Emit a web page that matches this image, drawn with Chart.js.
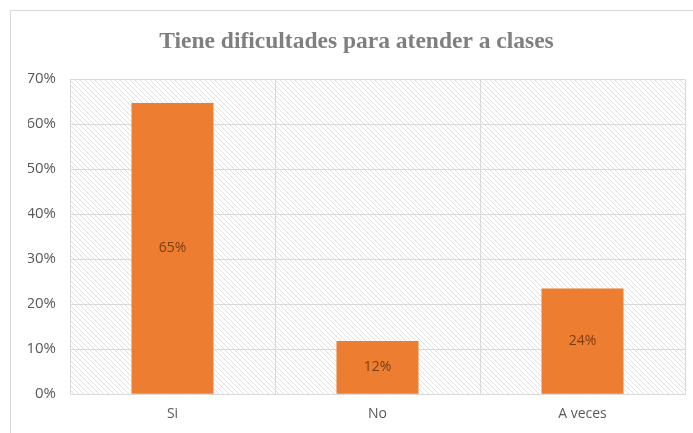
<!DOCTYPE html>
<html>
<head>
<meta charset="utf-8">
<script src="https://cdn.jsdelivr.net/npm/chart.js@4.4.0/dist/chart.umd.min.js"></script>
<style>
    html, body { margin: 0; padding: 0; background: #fff; overflow: hidden; }
    #frame { position: absolute; left: 10px; top: 10px; width: 720px; height: 460px; border: 1px solid #d9d9d9; }
    #wrap { position: absolute; left: 0; top: 0; width: 693px; height: 433px; }
</style>
</head>
<body>
<div id="frame"></div>
<div id="wrap"><canvas id="chart" width="693" height="433"></canvas></div>
<script>
const titleText = 'Tiene dificultades para atender a clases';
const categories = ['Si', 'No', 'A veces'];
const percentages = [64.7, 11.8, 23.5];
const yMax = 70;
const yStep = 10;

// diagonal hatch for the plot background
function makeHatch() {
    const c = document.createElement('canvas');
    c.width = 5;
    c.height = 5;
    const g = c.getContext('2d');
    g.fillStyle = '#ffffff';
    g.fillRect(0, 0, 5, 5);
    g.strokeStyle = '#e0e0e0';
    g.lineWidth = 1;
    g.beginPath();
    g.moveTo(-1, -1); g.lineTo(6, 6);
    g.moveTo(-1, 4); g.lineTo(1, 6);
    g.moveTo(4, -1); g.lineTo(6, 1);
    g.stroke();
    return g.createPattern(c, 'repeat');
}

const hatchBackground = {
    id: 'hatchBackground',
    beforeDraw(chart) {
        const { ctx, chartArea } = chart;
        ctx.save();
        ctx.fillStyle = makeHatch();
        ctx.fillRect(chartArea.left, chartArea.top, chartArea.right - chartArea.left, chartArea.bottom - chartArea.top);
        ctx.restore();
    }
};

// value labels in the middle of each bar
const barLabels = {
    id: 'barLabels',
    afterDatasetsDraw(chart) {
        const { ctx } = chart;
        const meta = chart.getDatasetMeta(0);
        ctx.save();
        ctx.font = '14px "Open Sans", sans-serif';
        ctx.fillStyle = '#7b3d12';
        ctx.textAlign = 'center';
        ctx.textBaseline = 'middle';
        meta.data.forEach((bar, i) => {
            const v = chart.data.datasets[0].data[i];
            ctx.fillText(Math.round(v) + '%', bar.x, (bar.y + bar.base) / 2);
        });
        ctx.restore();
    }
};

new Chart(document.getElementById('chart'), {
    type: 'bar',
    data: {
        labels: categories,
        datasets: [{
            data: percentages,
            backgroundColor: '#ed7d31',
            borderWidth: 0,
            barPercentage: 0.4,
            categoryPercentage: 1.0
        }]
    },
    options: {
        responsive: false,
        animation: false,
        layout: {
            padding: { left: 28, right: 8, top: 0, bottom: 0 }
        },
        plugins: {
            legend: { display: false },
            tooltip: { enabled: false },
            title: {
                display: true,
                text: titleText,
                color: '#7f7f7f',
                font: { family: '"Liberation Serif", serif', size: 23.5, weight: 'bold' },
                padding: { top: 28, bottom: 23 }
            }
        },
        scales: {
            x: {
                grid: { color: '#d9d9d9', offset: true, drawTicks: false },
                border: { color: '#d9d9d9' },
                ticks: {
                    color: '#595959',
                    font: { family: '"Open Sans", sans-serif', size: 14 },
                    padding: 11
                }
            },
            y: {
                min: 0,
                max: yMax,
                afterFit(axis) { axis.width = 42; },
                grid: { color: '#d9d9d9', drawTicks: false },
                border: { color: '#d9d9d9' },
                ticks: {
                    stepSize: yStep,
                    color: '#595959',
                    font: { family: '"Open Sans", sans-serif', size: 15 },
                    padding: 14,
                    callback: v => v + '%'
                }
            }
        }
    },
    plugins: [hatchBackground, barLabels]
});
</script>
</body>
</html>
